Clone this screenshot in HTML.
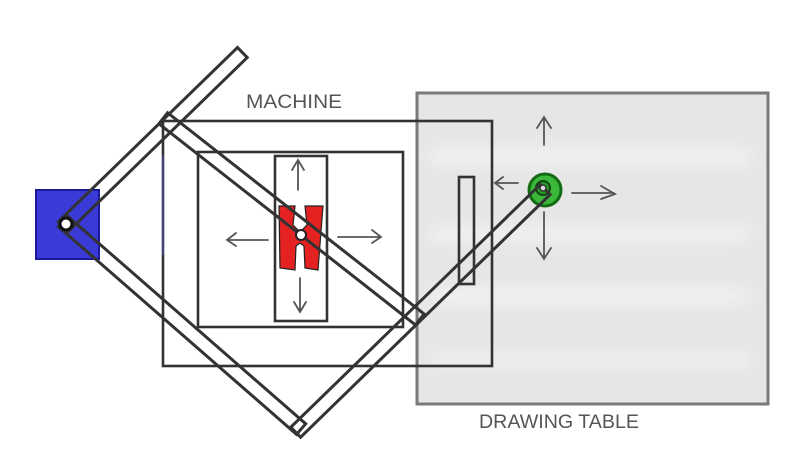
<!DOCTYPE html>
<html><head><meta charset="utf-8"><style>
html,body{margin:0;padding:0;background:#fff;}
svg{display:block;}
text{font-family:"Liberation Sans",sans-serif;fill:#555;}
</style></head><body>
<svg width="801" height="468" viewBox="0 0 801 468" xmlns="http://www.w3.org/2000/svg">
<defs><filter id="b"><feGaussianBlur stdDeviation="8"/></filter></defs>
<!-- drawing table -->
<rect x="417" y="93" width="351" height="311" fill="#e6e6e6"/>
<g filter="url(#b)" fill="#f4f4f4">
<rect x="430" y="150" width="320" height="14"/>
<rect x="430" y="228" width="320" height="12"/>
<rect x="430" y="290" width="320" height="12"/>
<rect x="430" y="355" width="320" height="10"/>
</g>
<rect x="417" y="93" width="351" height="311" fill="none" stroke="#7a7a7a" stroke-width="3"/>
<g fill="none" stroke="#333" stroke-width="2.6">
<!-- machine -->
<rect x="163" y="121" width="329" height="245"/>
<rect x="198" y="152" width="205" height="175"/>
<rect x="275" y="156" width="52" height="165"/>
<rect x="459" y="177" width="15" height="107"/>
</g>
<!-- blue square -->
<rect x="36" y="190" width="63" height="69" fill="#3a3ad6" stroke="#1a1a9a" stroke-width="2"/>
<line x1="163" y1="155" x2="163" y2="255" stroke="#5555cc" stroke-width="1"/>
<!-- red H -->
<path d="M279,206 L295,206 L293,225 L300,232 L307,225 L305,206 L323,206 L318,270 L305,268 L304,246 L300,243 L296,246 L295,270 L280,268 Z" fill="#e52222" stroke="#222" stroke-width="1.2"/>
<!-- green -->
<circle cx="545" cy="190" r="16" fill="#3bb83b" stroke="#136b13" stroke-width="3"/>
<circle cx="543" cy="188" r="7" fill="#2a9a2a" stroke="#114411" stroke-width="2"/>
<!-- rods -->
<g fill="none" stroke="#333" stroke-width="3">
<g transform="translate(66,224) rotate(-44.2)"><rect x="-4" y="-7" width="250" height="14"/></g>
<g transform="translate(66,224) rotate(41.1)"><rect x="-4" y="-7" width="316" height="14"/></g>
<g transform="translate(300,428) rotate(-44.2)"><rect x="-6" y="-7" width="348" height="14"/></g>
<g transform="translate(168,122) rotate(38.1)"><rect x="-6" y="-7" width="326" height="14"/></g>
</g>
<circle cx="66" cy="224" r="6" fill="#fff" stroke="#111" stroke-width="3"/>
<circle cx="301" cy="235" r="5" fill="#fff" stroke="#222" stroke-width="2"/>
<circle cx="543" cy="188" r="3" fill="#ddd" stroke="#333" stroke-width="1.5"/>
<!-- arrows -->
<g fill="none" stroke="#555" stroke-width="1.8" stroke-linecap="round">
<path d="M298,190 V162 M292,170 L298,160 L304,170"/>
<path d="M300,278 V311 M294,302 L300,312 L306,302"/>
<path d="M268,240 H228 M236,233 L227,240 L236,246"/>
<path d="M338,237 H380 M372,230 L381,237 L372,243"/>
<path d="M544,145 V118 M537,128 L544,117 L551,128"/>
<path d="M544,212 V258 M537,248 L544,259 L551,248"/>
<path d="M518,183 H496 M503,177 L495,183 L503,189"/>
<path d="M572,193 H614 M601,186 L615,194 L601,199"/>
</g>
<text x="246" y="108" font-size="19" textLength="96" lengthAdjust="spacingAndGlyphs">MACHINE</text>
<text x="479" y="428" font-size="19" textLength="160" lengthAdjust="spacingAndGlyphs">DRAWING TABLE</text>
</svg>
</body></html>
